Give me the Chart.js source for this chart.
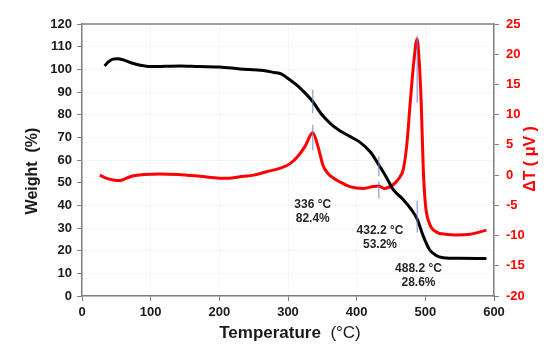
<!DOCTYPE html>
<html>
<head>
<meta charset="utf-8">
<script src="https://cdn.jsdelivr.net/npm/chart.js@4.4.0/dist/chart.umd.min.js"></script>
<style>
  html, body { margin: 0; padding: 0; background: #fff; }
  #wrap { width: 554px; height: 360px; }
</style>
</head>
<body>
<div id="wrap"><canvas id="tga" width="554" height="360"></canvas></div>
<script>
// TGA weight curve (temperature °C, weight %)
const weightT = [33, 38, 45, 52, 60, 70, 85, 100, 143, 170, 200, 230, 264, 280, 290, 303, 315, 325, 336, 348, 361, 375, 390, 405, 420, 434, 444, 453, 468, 480, 488, 497, 506, 515, 526, 550, 589];
const weightV = [101.5, 103.2, 104.5, 104.7, 104.2, 103, 101.8, 101.2, 101.5, 101.2, 101, 100.2, 99.5, 98.6, 98, 95.3, 92.5, 89.5, 85.8, 80.5, 76.3, 73, 70.4, 67.8, 63.5, 57, 52, 47, 42.5, 38, 34, 26.4, 20.5, 18, 16.9, 16.6, 16.5];

// DTA curve (temperature °C, ΔT µV)
const dtaT = [26, 35, 45, 55, 65, 75, 90, 113, 140, 172, 200, 215, 235, 250, 270, 290, 303, 315, 325, 336, 343, 351, 358, 365, 375, 390, 410, 424, 432, 440, 453, 463, 468, 473, 478, 483, 488, 491, 494, 497, 500, 506, 516, 530, 545, 565, 589];
const dtaV = [0, -0.5, -0.8, -0.9, -0.5, -0.1, 0.1, 0.2, 0.1, -0.2, -0.5, -0.5, -0.2, 0, 0.6, 1.2, 1.9, 3.2, 4.8, 7.0, 5, 1.6, 0.3, -0.4, -1.1, -1.9, -2.2, -1.9, -1.8, -2.2, -1.6, -0.3, 1, 5, 12, 18.5, 22.5, 19, 12, 1, -4.7, -8, -9.4, -9.8, -9.9, -9.8, -9.1];

// faint marker ticks at the decomposition points
const markT = [336, 432.2, 488.2];
const markWLo = [80.7, 52.8, 28];
const markWHi = [91, 61.5, 42];
const markDLo = [4.1, -3.9, 12];
const markDHi = [8.3, -1.1, 23];

// annotation labels (anchored in temperature / weight units)
const annT = [336, 434, 490];
const annW = [40.5, 28.6, 12.2];
const annTop = ['336 °C', '432.2 °C', '488.2 °C'];
const annBot = ['82.4%', '53.2%', '28.6%'];

const xTicks = [0, 100, 200, 300, 400, 500, 600];

const FONT = "'Liberation Sans', Arial, sans-serif";
const GRAY = '#808080';

const pts = (xs, ys) => xs.map((x, i) => ({ x, y: ys[i] }));

const datasets = [
  {
    label: 'Weight', data: pts(weightT, weightV), yAxisID: 'y',
    borderColor: '#000', borderWidth: 3, cubicInterpolationMode: 'monotone', pointRadius: 0, order: 0
  },
  {
    label: 'DTA', data: pts(dtaT, dtaV), yAxisID: 'y2',
    borderColor: '#ff0000', borderWidth: 3, cubicInterpolationMode: 'monotone', pointRadius: 0, order: 1
  }
];
markT.forEach((t, i) => {
  datasets.push({
    data: [{ x: t, y: markWLo[i] }, { x: t, y: markWHi[i] }], yAxisID: 'y',
    borderColor: 'rgba(110,130,200,0.65)', borderWidth: 1.5, pointRadius: 0, order: -1
  });
  datasets.push({
    data: [{ x: t, y: markDLo[i] }, { x: t, y: markDHi[i] }], yAxisID: 'y2',
    borderColor: 'rgba(110,130,200,0.65)', borderWidth: 1.5, pointRadius: 0, order: -1
  });
});

const labelsPlugin = {
  id: 'labels',
  afterDraw(chart) {
    const ctx = chart.ctx, a = chart.chartArea;
    const xs = chart.scales.x, ys = chart.scales.y;
    ctx.save();
    // top frame line
    ctx.strokeStyle = GRAY; ctx.lineWidth = 1.5;
    ctx.beginPath(); ctx.moveTo(a.left, a.top); ctx.lineTo(a.right, a.top); ctx.stroke();

    // annotations
    ctx.fillStyle = '#262626';
    ctx.font = 'bold 12px ' + FONT;
    ctx.textAlign = 'center'; ctx.textBaseline = 'middle';
    annT.forEach((t, i) => {
      const px = xs.getPixelForValue(t), py = ys.getPixelForValue(annW[i]);
      ctx.fillText(annTop[i], px, py);
      ctx.fillText(annBot[i], px, py + 14);
    });

    // x title
    ctx.fillStyle = '#1a1a1a';
    ctx.textBaseline = 'middle';
    const t1 = 'Temperature  ';
    ctx.font = 'bold 17px ' + FONT;
    const w1 = ctx.measureText(t1).width;
    ctx.font = '17px ' + FONT;
    const w2 = ctx.measureText('(°C)').width;
    const sx = 290 - (w1 + w2) / 2;
    ctx.textAlign = 'left';
    ctx.font = 'bold 17px ' + FONT;
    ctx.fillText(t1, sx, 333);
    ctx.font = '17px ' + FONT;
    ctx.fillText('(°C)', sx + w1, 333);

    // left title
    ctx.save();
    ctx.translate(33, 171);
    ctx.rotate(-Math.PI / 2);
    ctx.textAlign = 'center';
    ctx.font = 'bold 16px ' + FONT;
    ctx.fillText('Weight  (%)', 0, 0);
    ctx.restore();

    // right title
    ctx.save();
    ctx.translate(531, 159);
    ctx.rotate(-Math.PI / 2);
    ctx.textAlign = 'center';
    ctx.fillStyle = '#ff0000';
    ctx.font = 'bold 16px ' + FONT;
    ctx.fillText('ΔT ( μV )', 0, 0);
    ctx.restore();

    ctx.restore();
  }
};

new Chart(document.getElementById('tga'), {
  type: 'line',
  data: { datasets },
  options: {
    responsive: false, animation: false,
    layout: { padding: { top: 24, left: 0, right: 0, bottom: 0 } },
    plugins: { legend: { display: false }, tooltip: { enabled: false } },
    scales: {
      x: {
        type: 'linear', min: 0, max: 600,
        afterBuildTicks: s => { s.ticks = xTicks.map(v => ({ value: v })); },
        afterFit: s => { s.height = 64; },
        border: { color: GRAY, width: 1.5 },
        grid: { color: 'rgba(0,0,0,0.035)', tickColor: GRAY, tickLength: 5 },
        ticks: { color: '#1a1a1a', padding: 4, font: { family: FONT, size: 13, weight: 'bold' }, maxRotation: 0 }
      },
      y: {
        position: 'left', min: 0, max: 120,
        afterFit: s => { s.width = 82; },
        border: { color: GRAY, width: 1.5 },
        grid: { color: 'rgba(0,0,0,0.035)', tickColor: GRAY, tickLength: 5 },
        ticks: { stepSize: 10, color: '#1a1a1a', padding: 5, font: { family: FONT, size: 13, weight: 'bold' } }
      },
      y2: {
        position: 'right', min: -20, max: 25,
        afterFit: s => { s.width = 60; },
        border: { color: GRAY, width: 1.5 },
        grid: { drawOnChartArea: false, tickColor: GRAY, tickLength: 5 },
        ticks: { stepSize: 5, color: '#ff0000', padding: 7, font: { family: FONT, size: 13, weight: 'bold' } }
      }
    }
  },
  plugins: [labelsPlugin]
});
</script>
</body>
</html>
